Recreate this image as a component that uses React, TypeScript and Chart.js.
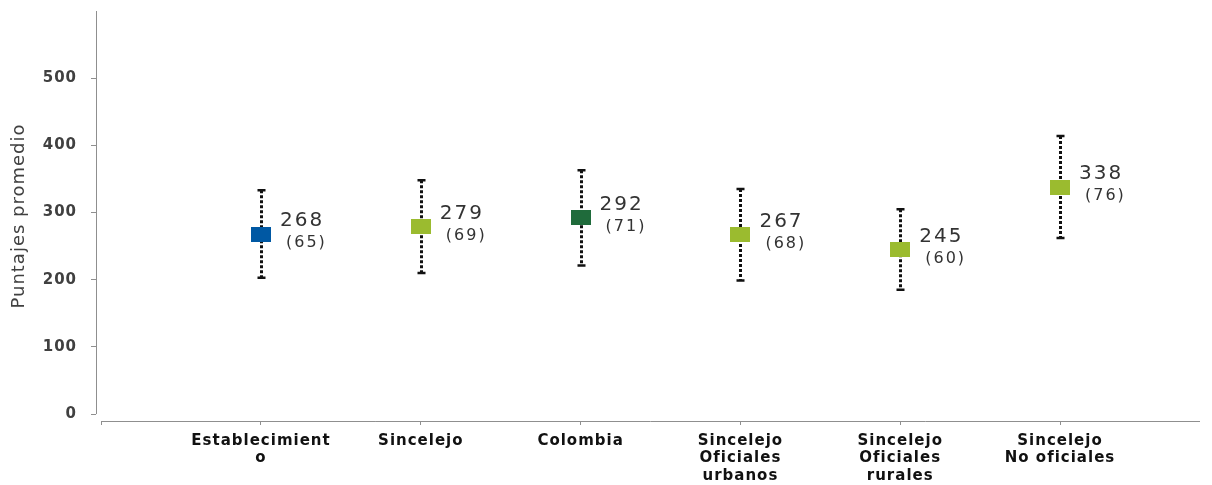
import React, { useEffect, useRef } from "react";
import { Chart, registerables } from "chart.js";

Chart.register(...registerables);

const categories: (string | string[])[] = [
  ["Establecimient", "o"],
  "Sincelejo",
  "Colombia",
  ["Sincelejo", "Oficiales", "urbanos"],
  ["Sincelejo", "Oficiales", "rurales"],
  ["Sincelejo", "No oficiales"],
];
const means = [268, 279, 292, 267, 245, 338];
const sds = [65, 69, 71, 68, 60, 76];
const markerColors = ["#0058A3", "#9BBB2F", "#1F6B3B", "#9BBB2F", "#9BBB2F", "#9BBB2F"];
const yTickValues = [0, 100, 200, 300, 400, 500];
const xTickValues = [0, 1, 2, 3, 4, 5, 6];
const yAxisTitle = "Puntajes promedio";

const AXIS_COLOR = "#8f8f8f";
const TEXT_COLOR = "#404040";
const FONT = "'DejaVu Sans', Verdana, sans-serif";

function makeMarker(color: string): HTMLCanvasElement {
  const c = document.createElement("canvas");
  c.width = 20;
  c.height = 15;
  const ctx = c.getContext("2d")!;
  ctx.fillStyle = color;
  ctx.fillRect(0, 0, 20, 15);
  return c;
}

const overlayPlugin = {
  id: "overlay",
  beforeDraw(chart: any) {
    (chart.ctx as any).letterSpacing = "1px";
  },
  beforeDatasetsDraw(chart: any) {
    const { ctx, chartArea, scales } = chart;
    const x = scales.x;
    const y = scales.y;
    ctx.save();
    // axis lines
    ctx.strokeStyle = AXIS_COLOR;
    ctx.lineWidth = 1;
    ctx.beginPath();
    ctx.moveTo(chartArea.left + 0.5, y.getPixelForValue(600));
    ctx.lineTo(chartArea.left + 0.5, y.getPixelForValue(0));
    ctx.stroke();
    ctx.beginPath();
    ctx.moveTo(x.getPixelForValue(0), chartArea.bottom + 0.5);
    ctx.lineTo(chartArea.right, chartArea.bottom + 0.5);
    ctx.stroke();
    // error bars
    ctx.strokeStyle = "#111";
    means.forEach((m, i) => {
      const px = Math.round(x.getPixelForValue(i + 1)) + 0.5;
      const top = y.getPixelForValue(m + sds[i]);
      const bot = y.getPixelForValue(m - sds[i]);
      ctx.lineWidth = 3;
      ctx.setLineDash([3, 2]);
      ctx.beginPath();
      ctx.moveTo(px, top);
      ctx.lineTo(px, bot);
      ctx.stroke();
      ctx.setLineDash([]);
      ctx.lineWidth = 2.5;
      ctx.beginPath();
      ctx.moveTo(px - 4, top);
      ctx.lineTo(px + 4, top);
      ctx.moveTo(px - 4, bot);
      ctx.lineTo(px + 4, bot);
      ctx.stroke();
    });
    ctx.restore();
  },
  afterDatasetsDraw(chart: any) {
    const { ctx, scales } = chart;
    const x = scales.x;
    const y = scales.y;
    ctx.save();
    ctx.fillStyle = "#333";
    ctx.textAlign = "left";
    ctx.textBaseline = "middle";
    means.forEach((m, i) => {
      const px = x.getPixelForValue(i + 1);
      const py = y.getPixelForValue(m);
      ctx.font = `20px ${FONT}`;
      (ctx as any).letterSpacing = "2px";
      ctx.fillText(String(m), px + 19, py - 13);
      ctx.font = `16px ${FONT}`;
      (ctx as any).letterSpacing = "2px";
      ctx.fillText(`(${sds[i]})`, px + 25, py + 9);
    });
    ctx.restore();
  },
  afterDraw(chart: any) {
    (chart.ctx as any).letterSpacing = "0px";
  },
};

export default function App() {
  const canvasRef = useRef<HTMLCanvasElement | null>(null);

  useEffect(() => {
    const canvas = canvasRef.current!;
    const chart = new Chart(canvas, {
      type: "scatter",
      data: {
        datasets: [
          {
            data: means.map((m, i) => ({ x: i + 1, y: m })),
            pointStyle: markerColors.map(makeMarker) as any,
            pointRadius: 10,
            pointHoverRadius: 10,
            backgroundColor: markerColors,
            borderColor: markerColors,
          },
        ],
      },
      options: {
        animation: false,
        responsive: false,
        events: [],
        layout: { padding: { top: 7, right: 12, left: 0, bottom: 0 } },
        plugins: {
          legend: { display: false },
          tooltip: { enabled: false },
        },
        scales: {
          x: {
            type: "linear",
            min: -0.0325,
            max: 6.876,
            border: { display: false },
            grid: {
              drawOnChartArea: false,
              drawTicks: true,
              tickLength: 4,
              color: AXIS_COLOR,
            },
            afterBuildTicks: (scale: any) => {
              scale.ticks = xTickValues.map((v) => ({ value: v }));
            },
            afterFit: (scale: any) => {
              scale.height = 64;
              scale.paddingLeft = 0;
              scale.paddingRight = 0;
            },
            ticks: {
              autoSkip: false,
              maxRotation: 0,
              minRotation: 0,
              padding: 7,
              color: "#111",
              font: { family: FONT, size: 15, weight: "bold", lineHeight: 1.17 },
              callback: (v: any) => {
                const idx = Math.round(Number(v)) - 1;
                return idx >= 0 && idx < categories.length ? (categories[idx] as any) : "";
              },
            },
          },
          y: {
            type: "linear",
            min: -10.3,
            max: 600,
            border: { display: false },
            grid: {
              drawOnChartArea: false,
              drawTicks: true,
              tickLength: 5,
              color: AXIS_COLOR,
            },
            afterBuildTicks: (scale: any) => {
              scale.ticks = yTickValues.map((v) => ({ value: v }));
            },
            afterFit: (scale: any) => {
              scale.width = 96;
              scale.paddingTop = 0;
              scale.paddingBottom = 0;
            },
            title: {
              display: true,
              text: yAxisTitle,
              color: TEXT_COLOR,
              font: { family: FONT, size: 18 },
              padding: { top: 9, bottom: 0 },
            },
            ticks: {
              padding: 14,
              color: TEXT_COLOR,
              font: { family: FONT, size: 15, weight: "bold" },
            },
          },
        },
      },
      plugins: [overlayPlugin],
    });
    return () => chart.destroy();
  }, []);

  return (
    <div style={{ position: "fixed", left: 0, top: 0, width: 1212, height: 485, background: "#fff" }}>
      <canvas ref={canvasRef} width={1212} height={485} style={{ display: "block" }} />
    </div>
  );
}
